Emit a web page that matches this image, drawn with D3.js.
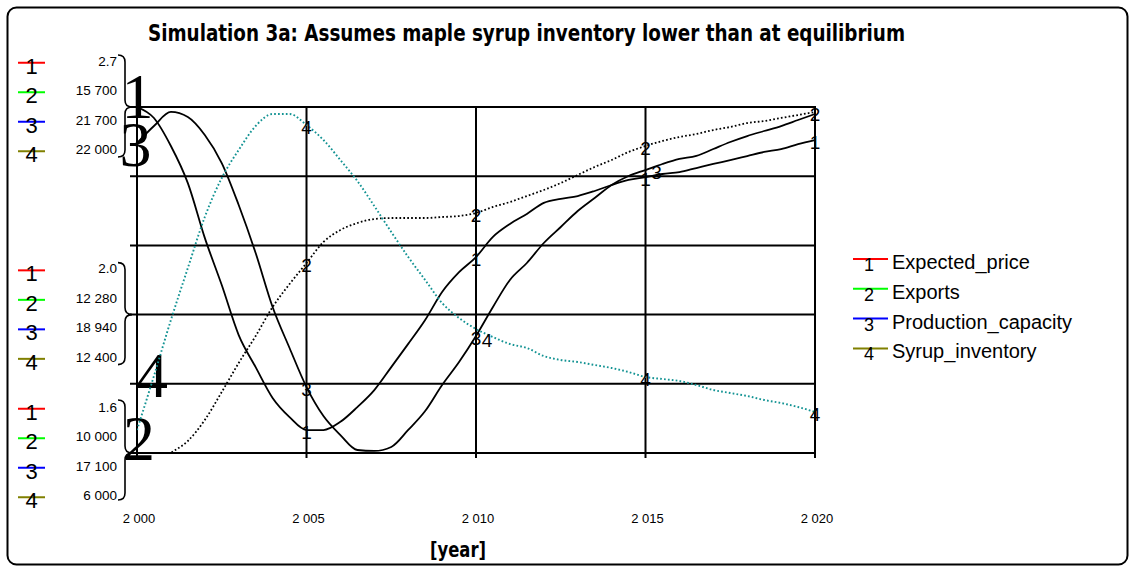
<!DOCTYPE html>
<html><head><meta charset="utf-8">
<script src="https://cdn.jsdelivr.net/npm/d3@7"></script>
<style>html,body{margin:0;padding:0;background:#fff;}svg{display:block;}</style>
</head><body>
<script>
// ---------- data ----------
const years = [2000,2000.5,2001,2001.5,2002,2002.5,2003,2003.5,2004,2004.5,2005,2005.5,2006,2006.5,2007,2007.5,2008,2008.5,2009,2009.5,2010,2010.5,2011,2011.5,2012,2012.5,2013,2013.5,2014,2014.5,2015,2015.5,2016,2016.5,2017,2017.5,2018,2018.5,2019,2019.5,2020];
const expectedPrice = [2.70,2.665,2.576,2.458,2.284,2.134,1.975,1.873,1.775,1.714,1.673,1.673,1.699,1.746,1.800,1.873,1.947,2.023,2.112,2.175,2.223,2.287,2.328,2.360,2.395,2.408,2.417,2.433,2.452,2.468,2.477,2.487,2.493,2.506,2.519,2.531,2.544,2.557,2.566,2.582,2.595];
const exportsVals = [9588,9786,10000,10198,10544,11005,11483,11927,12405,12784,13130,13476,13674,13789,13855,13871,13871,13871,13888,13904,13954,14053,14135,14234,14333,14448,14580,14712,14827,14959,15058,15140,15206,15255,15321,15371,15436,15469,15519,15568,15618];
const productionCapacity = [21220,21447,21634,21567,21328,20955,20397,19759,19041,18496,17977,17592,17339,17140,17127,17180,17406,17658,18004,18310,18655,19041,19400,19626,19892,20105,20317,20490,20663,20783,20862,20942,21009,21049,21142,21235,21314,21381,21447,21527,21607];
const syrupInventory = [7064,9561,12150,14555,16913,18717,20012,21121,21676,21676,21168,20474,19549,18578,17422,16220,15064,14000,12936,12243,11734,11364,11040,10855,10485,10301,10208,10069,9931,9746,9514,9422,9329,9144,8913,8774,8636,8451,8312,8127,7896];

const seriesNames = ["Expected_price","Exports","Production_capacity","Syrup_inventory"];
const seriesColors = ["#ff0000","#00ff00","#0000ff","#808000"];
const axisTopVals = [2.7,15700,21700,22000];
const axisMidVals = [2.0,12280,18940,12400];
const axisBottomVals = [1.6,10000,17100,6000];
const axisTopLabels = ["2.7","15 700","21 700","22 000"];
const axisMidLabels = ["2.0","12 280","18 940","12 400"];
const axisBottomLabels = ["1.6","10 000","17 100","6 000"];
const xTickYears = [2000,2005,2010,2015,2020];
const xTickLabels = ["2 000","2 005","2 010","2 015","2 020"];
const labelYears = [2005,2010,2015,2020];
const title = "Simulation 3a: Assumes maple syrup inventory lower than at equilibrium";
const xTitle = "[year]";

// ---------- layout ----------
const W = 1130, H = 567;
const L = 137, R = 815, T = 107, B = 453;
const svg = d3.select("body").append("svg").attr("width", W).attr("height", H);
const sans = "'Liberation Sans', Arial, sans-serif";

const x = d3.scaleLinear().domain([2000, 2020]).range([L, R]);
const yScales = [
  d3.scaleLinear().domain([axisBottomVals[0], axisTopVals[0]]).range([B, T]),
  d3.scaleLinear().domain([axisBottomVals[1], axisTopVals[1]]).range([B, T]),
  d3.scaleLinear().domain([axisBottomVals[2], axisTopVals[2]]).range([B, T]),
  d3.scaleLinear().domain([axisBottomVals[3], axisTopVals[3]]).range([B, T])
];
const yGrid = d3.scaleLinear().domain([0, 5]).range([B, T]);

// outer frame
svg.append("rect").attr("x", 7.5).attr("y", 7.5).attr("width", 1120).attr("height", 557)
  .attr("rx", 9).attr("fill", "none").attr("stroke", "#000").attr("stroke-width", 2);

// title
svg.append("text").attr("x", 148).attr("y", 41).text(title)
  .attr("font-family", "'Liberation Sans Narrow', 'DejaVu Sans Condensed', sans-serif")
  .attr("font-weight", "bold").attr("font-size", 23)
  .attr("textLength", 757).attr("lengthAdjust", "spacingAndGlyphs");

// grid
const grid = svg.append("g").attr("stroke", "#000").attr("stroke-width", 2);
grid.selectAll("line.h").data(d3.range(0, 6)).join("line")
  .attr("x1", L - 7).attr("x2", R + 1).attr("y1", d => yGrid(d)).attr("y2", d => yGrid(d));
grid.selectAll("line.v").data(xTickYears).join("line")
  .attr("x1", d => x(d)).attr("x2", d => x(d)).attr("y1", T).attr("y2", B + 5);

// x tick labels
svg.selectAll("text.xt").data(xTickYears).join("text")
  .attr("x", d => x(d) + 2).attr("y", 523).attr("text-anchor", "middle")
  .attr("font-family", sans).attr("font-size", 13)
  .text((d, i) => xTickLabels[i]);

// x title
svg.append("text").attr("x", 458).attr("y", 557).attr("text-anchor", "middle").text(xTitle)
  .attr("font-family", "'Liberation Sans Narrow', 'DejaVu Sans Condensed', sans-serif")
  .attr("font-weight", "bold").attr("font-size", 21)
  .attr("textLength", 56).attr("lengthAdjust", "spacingAndGlyphs");

// left value groups
const groups = [
  {idx: 5, labels: axisTopLabels, top: 52, bot: 50},
  {idx: 2, labels: axisMidLabels, top: 52, bot: 50},
  {idx: 0, labels: axisBottomLabels, top: 53, bot: 47}
];
groups.forEach(g => {
  const c = yGrid(g.idx);
  const gg = svg.append("g");
  g.labels.forEach((lab, i) => {
    const ry = c - 44.25 + i * 29.5;
    gg.append("line").attr("x1", 18).attr("x2", 45).attr("y1", ry).attr("y2", ry)
      .attr("stroke", seriesColors[i]).attr("stroke-width", 2);
    gg.append("text").attr("x", 31.5).attr("y", ry + 11).attr("text-anchor", "middle")
      .attr("font-family", sans).attr("font-size", 22).attr("fill", "#000").text(String(i + 1));
    gg.append("text").attr("x", 117).attr("y", ry + 3).attr("text-anchor", "end")
      .attr("font-family", sans).attr("font-size", 13.5).attr("fill", "#000").text(lab);
  });
  const t = c - g.top, b = c + g.bot;
  gg.append("path")
    .attr("d", `M118,${t} Q125,${t} 125,${t+7} L125,${c-7} Q125,${c} 132,${c} Q125,${c} 125,${c+7} L125,${b-7} Q125,${b} 118,${b}`)
    .attr("fill", "none").attr("stroke", "#000").attr("stroke-width", 1.6);
});

// big start glyphs
const big = [
  {t: "1", x: x(2000) + 0.5, y: 118},
  {t: "3", x: x(2000) - 1.5, y: 166},
  {t: "4", x: x(2000) + 15, y: 397},
  {t: "2", x: x(2000) + 2, y: 460}
];
svg.selectAll("text.big").data(big).join("text")
  .attr("x", d => d.x).attr("y", d => d.y).attr("text-anchor", "middle")
  .attr("font-family", "'Liberation Serif', 'Times New Roman', serif").attr("font-size", 64)
  .attr("fill", "#000").text(d => d.t);

// clip
svg.append("clipPath").attr("id", "plotclip").append("rect")
  .attr("x", L).attr("y", T - 3).attr("width", R - L + 2).attr("height", B - T + 3);

const seriesData = [expectedPrice, exportsVals, productionCapacity, syrupInventory];
const styles = [
  {stroke: "#000", dash: null, w: 1.8},
  {stroke: "#000", dash: "1.7,2.2", w: 1.8},
  {stroke: "#000", dash: null, w: 1.8},
  {stroke: "#139393", dash: "1.7,2.2", w: 1.9}
];
const lines = svg.append("g").attr("clip-path", "url(#plotclip)");
seriesData.forEach((vals, si) => {
  const line = d3.line().x((d, i) => x(years[i])).y(d => yScales[si](d)).curve(d3.curveMonotoneX);
  lines.append("path").datum(vals).attr("d", line)
    .attr("fill", "none").attr("stroke", styles[si].stroke)
    .attr("stroke-width", styles[si].w)
    .attr("stroke-dasharray", styles[si].dash);
});

// curve number labels
const offsets = {"2-2015": [11, 0], "3-2010": [11, 9]};
const hidden = {"2-2020": true};
seriesData.forEach((vals, si) => {
  labelYears.forEach(yr => {
    if (hidden[si + "-" + yr]) return;
    const i = years.indexOf(yr);
    const off = offsets[si + "-" + yr] || [0, 0];
    svg.append("text")
      .attr("x", x(yr) + off[0]).attr("y", yScales[si](vals[i]) + 9 + off[1])
      .attr("text-anchor", "middle").attr("font-family", sans).attr("font-size", 19)
      .attr("fill", "#000").text(String(si + 1));
  });
});

// right legend
seriesNames.forEach((name, i) => {
  const ry = 259 + i * 29.8;
  svg.append("line").attr("x1", 853).attr("x2", 888).attr("y1", ry).attr("y2", ry)
    .attr("stroke", seriesColors[i]).attr("stroke-width", 2);
  svg.append("text").attr("x", 869).attr("y", ry + 12).attr("text-anchor", "middle")
    .attr("font-family", sans).attr("font-size", 18).attr("fill", "#000").text(String(i + 1));
  svg.append("text").attr("x", 892).attr("y", ry + 10).attr("font-family", sans)
    .attr("font-size", 20).attr("fill", "#000").text(name);
});
</script>
</body></html>
